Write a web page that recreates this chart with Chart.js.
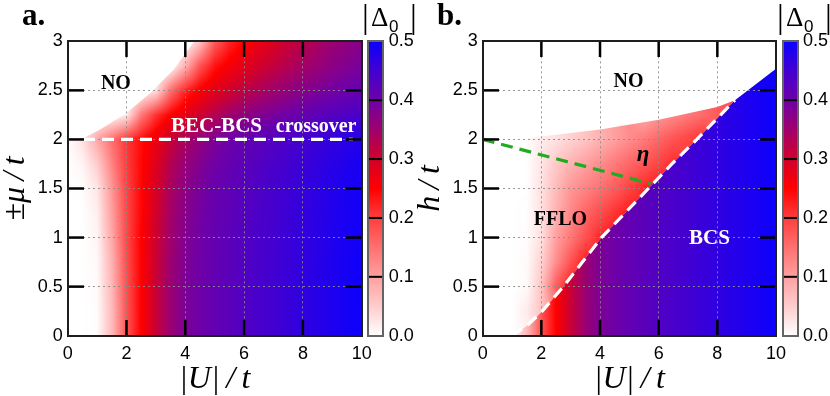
<!DOCTYPE html>
<html lang="en">
<head>
<meta charset="UTF-8">
<title>Pairing gap |Δ0| phase diagrams</title>
<script src="https://cdn.jsdelivr.net/npm/chart.js"></script>
<style>
  body { margin: 0; background: #fff; }
  .wrap { position: relative; width: 830px; height: 396px; }
  .panel { position: absolute; top: 0; width: 415px; height: 396px; }
</style>
</head>
<body>
<div class="wrap">
  <div class="panel" style="left:0"><canvas id="chartA" width="415" height="396"></canvas></div>
  <div class="panel" style="left:415px"><canvas id="chartB" width="415" height="396"></canvas></div>
</div>
<script>
// ---- data ----
const uCols = [0, 0.5, 1, 1.5, 2, 2.5, 3, 3.5, 4, 4.5, 5, 5.5, 6, 6.5, 7, 7.5, 8, 8.5, 9, 9.5, 10];
const xTickVals = [2, 4, 6, 8];
const yTickVals = [0.5, 1, 1.5, 2, 2.5];

// panel a: |Delta0| on (mu rows) x (U columns)
const muRows = [0, 0.25, 0.5, 0.75, 1, 1.25, 1.5, 1.75, 2, 2.25, 2.5, 2.75, 3];
const gapA = [
  [0, 0, 0.003, 0.07, 0.18, 0.25, 0.31, 0.355, 0.385, 0.40, 0.412, 0.422, 0.432, 0.442, 0.45, 0.458, 0.466, 0.474, 0.482, 0.49, 0.497],
  [0, 0, 0.003, 0.07, 0.18, 0.25, 0.31, 0.355, 0.385, 0.40, 0.412, 0.422, 0.432, 0.442, 0.45, 0.458, 0.466, 0.474, 0.482, 0.49, 0.497],
  [0, 0, 0.004, 0.075, 0.182, 0.25, 0.31, 0.355, 0.385, 0.40, 0.412, 0.422, 0.432, 0.442, 0.45, 0.458, 0.466, 0.474, 0.482, 0.49, 0.496],
  [0, 0, 0.006, 0.08, 0.185, 0.25, 0.308, 0.353, 0.383, 0.399, 0.411, 0.421, 0.431, 0.441, 0.449, 0.457, 0.465, 0.473, 0.481, 0.489, 0.495],
  [0, 0, 0.01, 0.09, 0.19, 0.25, 0.305, 0.35, 0.38, 0.397, 0.41, 0.42, 0.43, 0.44, 0.448, 0.456, 0.464, 0.472, 0.48, 0.488, 0.494],
  [0, 0, 0.015, 0.1, 0.19, 0.245, 0.30, 0.345, 0.375, 0.394, 0.408, 0.418, 0.428, 0.438, 0.446, 0.455, 0.463, 0.471, 0.479, 0.487, 0.493],
  [0, 0.002, 0.025, 0.11, 0.195, 0.245, 0.295, 0.34, 0.37, 0.39, 0.405, 0.415, 0.425, 0.435, 0.445, 0.453, 0.461, 0.469, 0.477, 0.485, 0.492],
  [0, 0.01, 0.05, 0.13, 0.2, 0.245, 0.285, 0.33, 0.36, 0.38, 0.398, 0.41, 0.42, 0.43, 0.44, 0.448, 0.456, 0.464, 0.472, 0.48, 0.487],
  [0, 0.03, 0.09, 0.15, 0.205, 0.24, 0.27, 0.31, 0.34, 0.365, 0.385, 0.40, 0.41, 0.42, 0.43, 0.44, 0.448, 0.456, 0.464, 0.472, 0.478],
  [0, 0, 0, 0, 0.02, 0.14, 0.21, 0.25, 0.28, 0.305, 0.33, 0.35, 0.365, 0.38, 0.39, 0.40, 0.41, 0.42, 0.428, 0.435, 0.44],
  [0, 0, 0, 0, 0, 0, 0.03, 0.15, 0.22, 0.255, 0.28, 0.30, 0.32, 0.335, 0.35, 0.363, 0.375, 0.385, 0.395, 0.403, 0.41],
  [0, 0, 0, 0, 0, 0, 0, 0, 0.08, 0.18, 0.235, 0.26, 0.28, 0.30, 0.315, 0.33, 0.345, 0.357, 0.37, 0.38, 0.39],
  [0, 0, 0, 0, 0, 0, 0, 0, 0, 0.06, 0.17, 0.22, 0.25, 0.27, 0.29, 0.31, 0.325, 0.34, 0.355, 0.365, 0.375]
];
// normal (NO) boundary in panel a
const edgeAU = [0.45, 1.1, 2.0, 2.8, 3.6, 4.3];
const edgeAMu = [2.0, 2.1, 2.27, 2.47, 2.71, 3.0];
// BEC-BCS crossover line
const crossU = [0.52, 9.7];
const crossMu = [2, 2];

// panel b: BCS gap (independent of h) and FFLO gap
const gapBCS = [0, 0, 0.003, 0.07, 0.18, 0.25, 0.31, 0.355, 0.385, 0.40, 0.412, 0.422, 0.432, 0.442, 0.45, 0.458, 0.466, 0.474, 0.482, 0.49, 0.497];
const hRowsB = [0, 0.25, 0.5, 0.75, 1, 1.25, 1.5, 1.75, 2, 2.25, 2.5];
const N = null;
const gapFFLO = [
  [0, 0, 0, 0.01, 0.04, N, N, N, N, N, N, N, N, N, N, N, N, N, N, N, N],
  [0, 0, 0, 0.02, 0.06, 0.13, N, N, N, N, N, N, N, N, N, N, N, N, N, N, N],
  [0, 0, 0, 0.005, 0.06, 0.17, 0.23, N, N, N, N, N, N, N, N, N, N, N, N, N, N],
  [0, 0, 0, 0.005, 0.045, 0.12, 0.18, 0.23, N, N, N, N, N, N, N, N, N, N, N, N, N],
  [0, 0, 0, 0.003, 0.03, 0.1, 0.14, 0.18, 0.22, 0.235, N, N, N, N, N, N, N, N, N, N, N],
  [0, 0, 0, 0.002, 0.03, 0.08, 0.125, 0.16, 0.185, 0.21, 0.23, N, N, N, N, N, N, N, N, N, N],
  [0, 0, 0, 0, 0.03, 0.07, 0.11, 0.13, 0.15, 0.17, 0.195, 0.22, 0.235, N, N, N, N, N, N, N, N],
  [0, 0, 0, 0, 0.025, 0.055, 0.08, 0.1, 0.12, 0.14, 0.16, 0.175, 0.195, 0.215, N, N, N, N, N, N, N],
  [0, 0, 0, 0, 0.02, 0.03, 0.045, 0.06, 0.08, 0.1, 0.12, 0.14, 0.16, 0.18, 0.195, 0.21, N, N, N, N, N],
  [N, N, N, N, N, N, N, N, N, N, N, 0.09, 0.11, 0.125, 0.14, 0.155, 0.17, 0.18, N, N, N],
  [N, N, N, N, N, N, N, N, N, N, N, N, N, N, N, N, 0.175, 0.185, 0.19, N, N]
];
// BCS / FFLO boundary (white dashes up to 8.6) and FFLO / NO boundary
const bcsEdgeU = [1.0, 1.5, 2.0, 2.75, 3.4, 4.05, 4.85, 5.65, 6.45, 7.3, 7.95, 8.6, 10];
const bcsEdgeH = [0, 0.1, 0.24, 0.5, 0.75, 1.0, 1.25, 1.5, 1.75, 2.0, 2.2, 2.4, 2.72];
const topEdgeU = [0, 2, 4, 6, 8, 8.6];
const topEdgeH = [2.0, 2.03, 2.1, 2.2, 2.33, 2.4];
// eta line (green)
const etaU = [0, 5.72];
const etaH = [2.0, 1.55];

// colour scale of the colour bar
const cmapVals = [0, 0.05, 0.1, 0.15, 0.2, 0.25, 0.3, 0.35, 0.4, 0.45, 0.5];
const cmapRGB = [[255,255,255],[255,205,205],[255,160,160],[255,112,112],[255,62,62],[255,0,0],
                 [210,0,42],[160,0,108],[110,0,168],[66,0,210],[10,0,255]];
const cbTicks = [0.1, 0.2, 0.3, 0.4];

// ---- helpers ----
Chart.defaults.font.family = '"Liberation Sans", Arial, sans-serif';
Chart.defaults.color = '#000';
const serif = '"Liberation Serif", "DejaVu Serif", serif';

function colorOf(v) {
  if (v <= cmapVals[0]) return cmapRGB[0];
  for (let k = 1; k < cmapVals.length; k++) {
    if (v <= cmapVals[k]) {
      const t = (v - cmapVals[k - 1]) / (cmapVals[k] - cmapVals[k - 1]);
      const a = cmapRGB[k - 1], b = cmapRGB[k];
      return [a[0] + (b[0] - a[0]) * t, a[1] + (b[1] - a[1]) * t, a[2] + (b[2] - a[2]) * t];
    }
  }
  return cmapRGB[cmapRGB.length - 1];
}

function locate(arr, v) {
  const n = arr.length - 1;
  if (v <= arr[0]) return [0, 0];
  if (v >= arr[n]) return [n - 1, 1];
  let i = 0;
  while (arr[i + 1] < v) i++;
  return [i, (v - arr[i]) / (arr[i + 1] - arr[i])];
}

// shading between grid nodes; null nodes are outside the phase
function sample(grid, xs, ys, u, m) {
  const [i, tx] = locate(xs, u);
  const [j, ty] = locate(ys, m);
  const pts = [[j, i, (1 - tx) * (1 - ty)], [j, i + 1, tx * (1 - ty)], [j + 1, i, (1 - tx) * ty], [j + 1, i + 1, tx * ty]];
  let s = 0, w = 0;
  for (const [r, c, wt] of pts) {
    const v = grid[r][c];
    if (v !== null && wt > 0) { s += v * wt; w += wt; }
  }
  return w > 0 ? s / w : null;
}

function paintField(chart, layer) {
  const {ctx, chartArea: a, scales: {x, y}} = chart;
  const w = Math.ceil(a.right - a.left), h = Math.ceil(a.bottom - a.top);
  const off = document.createElement('canvas');
  off.width = w; off.height = h;
  const oc = off.getContext('2d');
  const img = oc.createImageData(w, h);
  for (let py = 0; py < h; py++) {
    const yv = y.getValueForPixel(a.top + py + 0.5);
    for (let px = 0; px < w; px++) {
      const xv = x.getValueForPixel(a.left + px + 0.5);
      const v = sample(layer.grid, layer.xs, layer.ys, xv, yv);
      if (v === null) continue;
      const c = colorOf(v);
      const k = (py * w + px) * 4;
      img.data[k] = c[0]; img.data[k + 1] = c[1]; img.data[k + 2] = c[2]; img.data[k + 3] = 255;
    }
  }
  oc.putImageData(img, 0, 0);
  ctx.save();
  ctx.beginPath();
  layer.poly.forEach(([u, m], k) => {
    const px = x.getPixelForValue(u), py = y.getPixelForValue(m);
    if (k) ctx.lineTo(px, py); else ctx.moveTo(px, py);
  });
  ctx.closePath();
  ctx.clip();
  ctx.drawImage(off, a.left, a.top);
  ctx.restore();
}

// ticks, frame and colour bar drawn over the field
function drawFrame(chart) {
  const {ctx, chartArea: a, scales: {x, y, cb}} = chart;
  ctx.save();
  ctx.fillStyle = '#000000';
  const L = Math.round(a.left), R = Math.round(a.right), T = Math.round(a.top), B = Math.round(a.bottom);
  const tw = 2.5, tl = 16;
  for (const v of xTickVals) {
    const px = x.getPixelForValue(v) - tw / 2;
    ctx.fillRect(px, B - tl, tw, tl);
    ctx.fillRect(px, T, tw, tl);
  }
  for (const v of yTickVals) {
    const py = y.getPixelForValue(v) - tw / 2;
    ctx.fillRect(L, py, tl, tw);
    ctx.fillRect(R - tl, py, tl, tw);
  }
  ctx.fillStyle = '#1e1e1e';
  ctx.fillRect(L - 1, T - 1, R - L + 2, 2);
  ctx.fillRect(L - 1, B - 1, R - L + 2, 2);
  ctx.fillRect(L - 1, T - 1, 2, B - T + 2);
  ctx.fillRect(R - 1, T - 1, 2, B - T + 2);

  const cx = Math.round(a.right + 6.6), cw = 15;
  const y0 = Math.round(cb.getPixelForValue(0)), y1 = Math.round(cb.getPixelForValue(0.5));
  const g = ctx.createLinearGradient(0, y0, 0, y1);
  cmapVals.forEach((v, k) => g.addColorStop(v / 0.5, 'rgb(' + cmapRGB[k].join(',') + ')'));
  ctx.fillStyle = g;
  ctx.fillRect(cx, y1, cw, y0 - y1);
  ctx.fillStyle = '#000000';
  for (const v of cbTicks) {
    const py = cb.getPixelForValue(v) - 1;
    ctx.fillRect(cx, py, cw, 2);
  }
  ctx.fillStyle = '#646464';
  ctx.fillRect(cx - 1, y1 - 1, cw + 2, 2);
  ctx.fillRect(cx - 1, y0 - 1, cw + 2, 2);
  ctx.fillRect(cx - 1, y1 - 1, 2, y0 - y1 + 2);
  ctx.fillRect(cx + cw - 1, y1 - 1, 2, y0 - y1 + 2);
  ctx.restore();
}

function makePlugin(cfg) {
  return {
    id: 'field' + cfg.label.replace('.', ''),
    beforeDraw(chart) {
      cfg.layers.forEach(l => paintField(chart, l));
    },
    afterDatasetsDraw(chart) {
      drawFrame(chart);
    },
    afterDraw(chart) {
      const {ctx, scales: {x, y}} = chart;
      ctx.save();
      // |Δ0| heading
      ctx.fillStyle = '#000';
      ctx.textBaseline = 'alphabetic';
      ctx.textAlign = 'left';
      ctx.font = '34px ' + serif;
      ctx.fillText('|', 362, 28);
      ctx.fillText('|', 410, 28);
      ctx.font = '27px ' + serif;
      ctx.fillText('Δ', 371, 26);
      ctx.font = '17px "Liberation Sans", Arial, sans-serif';
      ctx.fillText('0', 389, 32);

      // panel letter
      ctx.font = 'bold 31px ' + serif;
      ctx.fillText(cfg.label, 22, 25);

      // phase labels
      ctx.textAlign = 'center';
      ctx.textBaseline = 'middle';
      cfg.notes.forEach(n => {
        ctx.font = n.font;
        ctx.fillStyle = n.color;
        ctx.fillText(n.text, x.getPixelForValue(n.u), y.getPixelForValue(n.v));
      });
      ctx.restore();
    }
  };
}

function dashed(us, vs, color) {
  return {
    data: us.map((u, k) => ({x: u, y: vs[k]})),
    showLine: true,
    borderColor: color,
    borderWidth: 3.2,
    borderDash: [12, 7],
    pointRadius: 0,
    fill: false
  };
}

function makeChart(id, cfg, yTitle, datasets, rightWidth) {
  return new Chart(document.getElementById(id), {
    type: 'scatter',
    data: {datasets},
    options: {
      responsive: false,
      animation: false,
      events: [],
      layout: {padding: {top: 41.3, left: 0, right: 0, bottom: 0}},
      plugins: {legend: {display: false}, tooltip: {enabled: false}},
      scales: {
        x: {
          type: 'linear', min: 0, max: 10,
          ticks: {stepSize: 2, padding: 8, font: {size: 18}, maxRotation: 0},
          grid: {color: 'rgba(140,140,140,0.9)', lineWidth: 1, drawTicks: false},
          border: {display: false, dash: [2, 3]},
          title: {display: true, text: '|U|\u2009/\u2009t', padding: 0,
                  font: {family: serif, style: 'italic', size: 32, lineHeight: 1}},
          afterFit: s => { s.height = 60.3; }
        },
        y: {
          type: 'linear', min: 0, max: 3,
          ticks: {stepSize: 0.5, padding: 5, font: {size: 18}, callback: v => String(v)},
          grid: {color: 'rgba(140,140,140,0.9)', lineWidth: 1, drawTicks: false},
          border: {display: false, dash: [2, 3]},
          title: {display: true, text: yTitle, padding: 0,
                  font: {family: serif, style: 'italic', size: 32, lineHeight: 1}},
          afterFit: s => { s.width = 67.7; }
        },
        cb: {
          type: 'linear', position: 'right', min: 0, max: 0.5,
          ticks: {stepSize: 0.1, padding: 27, font: {size: 18}, callback: v => v.toFixed(1)},
          grid: {display: false, drawTicks: false},
          border: {display: false},
          afterFit: s => { s.width = rightWidth; }
        }
      }
    },
    plugins: [makePlugin(cfg)]
  });
}

// ---- panel a ----
const polyA = [[0, 0], [10, 0], [10, 3]];
for (let k = edgeAU.length - 1; k >= 0; k--) polyA.push([edgeAU[k], edgeAMu[k]]);
polyA.push([0, 2.0]);

makeChart('chartA', {
  label: 'a.',
  layers: [{grid: gapA, xs: uCols, ys: muRows, poly: polyA}],
  notes: [
    {text: 'NO', u: 1.64, v: 2.57, font: 'bold 20px ' + serif, color: '#000'},
    {text: 'BEC-BCS', u: 5.06, v: 2.13, font: 'bold 21px ' + serif, color: '#fff'},
    {text: 'crossover', u: 8.45, v: 2.13, font: 'bold 20px ' + serif, color: '#fff'}
  ]
}, '\u00B1\u03BC\u2009/\u2009t', [dashed(crossU, crossMu, '#ffffff')], 53.3);

// ---- panel b ----
const polyBCS = bcsEdgeU.map((u, k) => [u, bcsEdgeH[k]]);
polyBCS.push([10, 0]);
const polyFFLO = [[0, 0]];
for (let k = 0; k < bcsEdgeU.length - 1; k++) polyFFLO.push([bcsEdgeU[k], bcsEdgeH[k]]);
for (let k = topEdgeU.length - 1; k >= 0; k--) polyFFLO.push([topEdgeU[k], topEdgeH[k]]);

makeChart('chartB', {
  label: 'b.',
  layers: [
    {grid: gapFFLO, xs: uCols, ys: hRowsB, poly: polyFFLO},
    {grid: [gapBCS, gapBCS], xs: uCols, ys: [0, 3], poly: polyBCS}
  ],
  notes: [
    {text: 'NO', u: 4.97, v: 2.59, font: 'bold 20px ' + serif, color: '#000'},
    {text: 'η', u: 5.47, v: 1.84, font: 'bold italic 23px ' + serif, color: '#000'},
    {text: 'FFLO', u: 2.65, v: 1.18, font: 'bold 20px ' + serif, color: '#000'},
    {text: 'BCS', u: 7.73, v: 0.99, font: 'bold 21px ' + serif, color: '#fff'}
  ]
}, 'h\u2009/\u2009t', [
  dashed(bcsEdgeU.slice(0, -1), bcsEdgeH.slice(0, -1), '#ffffff'),
  dashed(etaU, etaH, '#22aa22')
], 54);
</script>
</body>
</html>
